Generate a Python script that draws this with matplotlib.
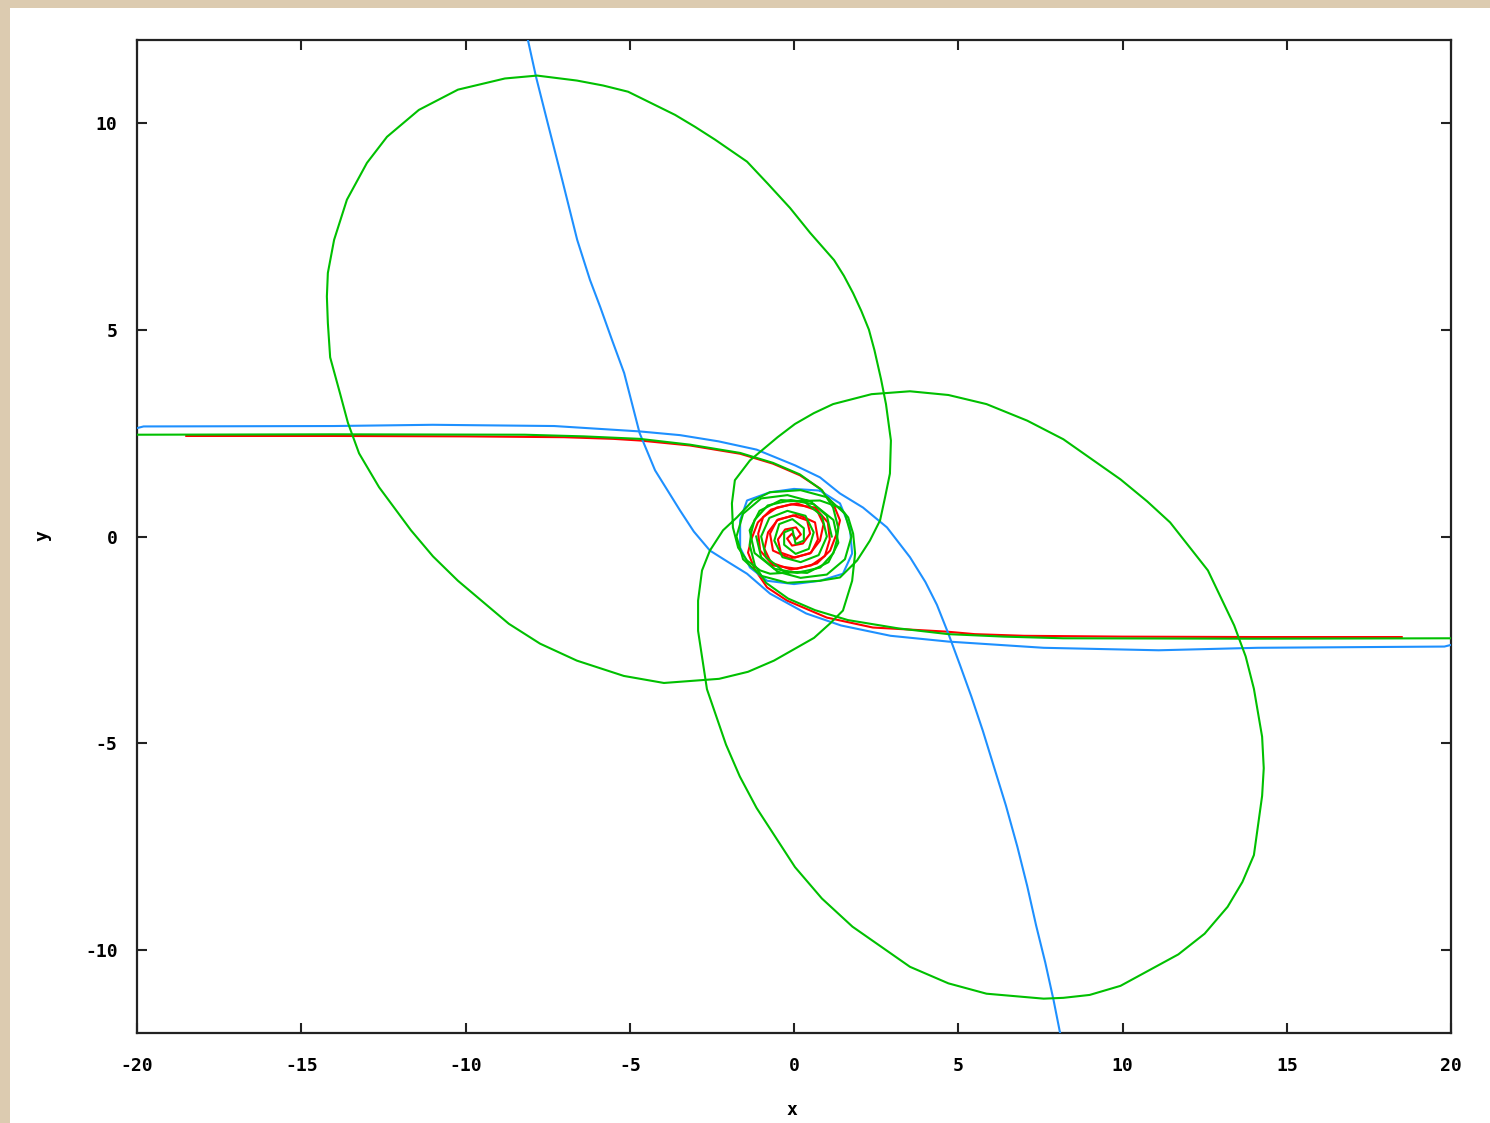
import matplotlib

matplotlib.use("Agg")
import matplotlib.pyplot as plt
import matplotlib.patches as mpatches

# ---- data (x, y pairs per trajectory piece) ----

# red: accurate solution, two arms spiralling into the origin
red_a_x = [-18.5, -14, -10, -7, -5.5, -4.69, -3.17, -1.64, -0.64, 0.18, 0.79, 1.19, 1.4, 1.3, 1.1, 0.7,
           0.09, -0.64, -1.03, -1.09, -0.94, -0.52, 0.09, 0.7, 0.9, 0.79, 0.49, -0.12, -0.64, -0.73,
           -0.52, -0.03, 0.4, 0.49, 0.27, -0.06, -0.21, -0.06, 0.0]
red_a_y = [2.43, 2.43, 2.42, 2.40, 2.36, 2.32, 2.2, 2.0, 1.76, 1.48, 1.16, 0.8, 0.39, 0.07, -0.34, -0.65,
           -0.78, -0.7, -0.34, 0.07, 0.47, 0.7, 0.8, 0.63, 0.3, -0.1, -0.41, -0.53, -0.34, 0.07,
           0.39, 0.51, 0.39, 0.07, -0.17, -0.22, -0.05, 0.07, 0.0]
red_b_x = [18.5, 14, 10, 7, 5.5, 4.66, 2.4, 1.0, -0.21, -0.82, -1.19, -1.4, -1.3, -1.1, -0.7, -0.09,
           0.64, 1.03, 1.09, 0.94, 0.52, -0.09, -0.7, -0.9, -0.79, -0.49, 0.12, 0.64, 0.73, 0.52,
           0.03, -0.4, -0.49, -0.27, 0.06, 0.21, 0.06, 0.0]
red_b_y = [-2.43, -2.43, -2.42, -2.40, -2.36, -2.3, -2.2, -1.96, -1.55, -1.23, -0.8, -0.39, -0.07, 0.34,
           0.65, 0.78, 0.7, 0.34, -0.07, -0.47, -0.7, -0.8, -0.63, -0.3, 0.1, 0.41, 0.53, 0.34, -0.07,
           -0.39, -0.51, -0.39, -0.07, 0.17, 0.22, 0.05, -0.07, 0.0]

# green: arms
green_a_x = [-20, -14, -8.2, -6.4, -4.7, -3.17, -1.64, -0.64, 0.18, 0.85, 1.19, 1.35, 1.3, 1.2, 0.8, 0.1,
             -0.6, -1.2, -1.35, -1.05, -0.4, 0.3, 0.85, 1.0, 0.75, 0.2, -0.35, -0.6, -0.45, -0.05, 0.3,
             0.3, 0.05, 0.0]
green_a_y = [2.46, 2.47, 2.46, 2.42, 2.36, 2.22, 2.02, 1.78, 1.5, 1.12, 0.7, 0.2, -0.1, -0.4, -0.75,
             -0.88, -0.78, -0.4, 0.15, 0.62, 0.88, 0.85, 0.5, 0.0, -0.45, -0.62, -0.5, -0.1, 0.3, 0.42,
             0.2, -0.1, -0.18, 0.0]
green_b_x = [20, 14, 8.2, 6.4, 4.7, 3.17, 1.64, 0.64, -0.18, -0.85, -1.19, -1.35, -1.3, -1.2, -0.8, -0.1,
             0.6, 1.2, 1.35, 1.05, 0.4, -0.3, -0.85, -1.0, -0.75, -0.2, 0.35, 0.6, 0.45, 0.05, -0.3,
             -0.3, -0.05, 0.0]
green_b_y = [-2.46, -2.47, -2.46, -2.42, -2.36, -2.22, -2.02, -1.78, -1.5, -1.12, -0.7, -0.2, 0.1, 0.4,
             0.75, 0.88, 0.78, 0.4, -0.15, -0.62, -0.88, -0.85, -0.5, 0.0, 0.45, 0.62, 0.5, 0.1, -0.3,
             -0.42, -0.2, 0.1, 0.18, 0.0]

# green: big upper-left loop, both ends winding into the centre
green_l_x = [-0.3, 0.79, 1.40, 1.65, 1.80, 1.86, 1.77, 1.49, 1.10, 0.61, -0.61, -1.40, -2.28, -3.96,
             -5.18, -6.61, -7.73, -8.68, -10.23, -10.99, -11.66, -12.63, -13.24, -13.58, -13.82, -14.12,
             -14.19, -14.22, -14.19, -14.0, -13.61, -13.0, -12.39, -11.42, -10.23, -8.80, -7.82, -6.61,
             -5.81, -5.05, -3.62, -3.01, -2.40, -1.43, -0.79, -0.12, 0.49, 1.22, 1.52, 1.80, 2.05, 2.28,
             2.45, 2.65, 2.80, 2.95, 2.92, 2.77, 2.62, 2.31, 1.92, 1.40, 0.79, -0.2, -1.0, -1.55, -1.75,
             -1.55, -1.0, -0.2, 0.5, 1.0, 1.15]
green_l_y = [0.85, 0.87, 0.70, 0.46, 0.07, -0.41, -1.07, -1.79, -2.1, -2.45, -3.0, -3.27, -3.44, -3.54,
             -3.37, -3.0, -2.59, -2.11, -1.07, -0.48, 0.15, 1.19, 2.01, 2.75, 3.46, 4.33, 5.16, 5.8,
             6.37, 7.17, 8.14, 9.03, 9.66, 10.31, 10.80, 11.07, 11.14, 11.02, 10.90, 10.75, 10.19, 9.90,
             9.59, 9.06, 8.52, 7.94, 7.34, 6.68, 6.3, 5.88, 5.45, 5.0, 4.5, 3.8, 3.2, 2.32, 1.52, 0.94,
             0.39, -0.1, -0.58, -0.99, -1.07, -1.12, -0.95, -0.55, 0.0, 0.55, 0.92, 1.0, 0.85, 0.5, 0.0]

# green: big lower-right loop, both ends winding into the centre
green_r_x = [0.3, -0.73, -1.03, -1.43, -1.70, -1.86, -1.89, -1.80, -1.34, -0.5, 0.03, 0.6, 1.19, 2.36,
             3.53, 4.7, 5.86, 7.1, 8.2, 9.94, 10.75, 11.45, 12.6, 13.4, 13.75, 14.0, 14.25, 14.3, 14.25,
             14.0, 13.65, 13.2, 12.5, 11.7, 9.94, 9.0, 8.2, 7.6, 5.86, 4.7, 3.53, 1.78, 0.85, 0.03,
             -1.14, -1.65, -2.07, -2.65, -2.92, -2.92, -2.80, -2.56, -2.16, -1.74, -1.25, -0.73, 0.2,
             1.0, 1.55, 1.75, 1.55, 1.0, 0.2, -0.5, -1.0, -1.15]
green_r_y = [-0.85, -0.9, -0.82, -0.58, -0.27, 0.22, 0.8, 1.36, 1.84, 2.4, 2.72, 2.98, 3.2, 3.44, 3.51,
             3.42, 3.2, 2.8, 2.35, 1.38, 0.85, 0.34, -0.82, -2.15, -2.9, -3.68, -4.84, -5.6, -6.27,
             -7.7, -8.35, -8.95, -9.6, -10.1, -10.86, -11.08, -11.15, -11.17, -11.05, -10.8, -10.4,
             -9.43, -8.75, -7.99, -6.56, -5.8, -5.03, -3.69, -2.28, -1.55, -0.82, -0.34, 0.15, 0.46,
             0.87, 1.07, 1.12, 0.95, 0.55, 0.0, -0.55, -0.92, -1.0, -0.85, -0.5, 0.0]

# blue: loop round the origin
blue_loop_x = [0.79, 1.4, 1.7, 1.77, 1.49, 0.79, 0.0, -0.82, -1.34, -1.64, -1.64, -1.43, -0.73, 0.0, 0.79]
blue_loop_y = [1.11, 0.8, 0.22, -0.41, -0.9, -1.07, -1.15, -1.07, -0.75, -0.27, 0.39, 0.87, 1.07, 1.15,
               1.11]

# blue: shallow arm from the left turning into the steep arm at the bottom
blue_a_x = [-20, -19.8, -14, -11, -7.3, -5.9, -4.7, -3.47, -2.3, -1.14, 0.03, 0.79, 1.4, 2.1, 2.83, 3.53,
            4.0, 4.35, 4.7, 5.05, 5.4, 5.75, 6.1, 6.45, 6.8, 7.1, 7.37, 7.65, 7.9, 8.1]
blue_a_y = [2.62, 2.66, 2.67, 2.7, 2.67, 2.6, 2.54, 2.45, 2.3, 2.1, 1.72, 1.43, 1.04, 0.7, 0.22, -0.5,
            -1.1, -1.65, -2.35, -3.1, -3.87, -4.7, -5.6, -6.5, -7.5, -8.45, -9.4, -10.3, -11.2, -12.0]

# blue: shallow arm from the right turning into the steep arm at the top
blue_b_x = [20, 19.8, 14.1, 11.1, 7.6, 4.7, 2.94, 1.43, 0.37, -0.73, -1.43, -2.0, -2.56, -3.05, -3.47,
            -4.23, -4.7, -5.17, -5.54, -5.9, -6.21, -6.6, -7.05, -7.5, -7.85, -8.1]
blue_b_y = [-2.62, -2.66, -2.69, -2.75, -2.69, -2.54, -2.4, -2.15, -1.86, -1.38, -0.9, -0.62, -0.34, 0.12,
            0.63, 1.6, 2.5, 3.95, 4.75, 5.55, 6.2, 7.17, 8.6, 10.0, 11.1, 12.0]

x_ticks = [-20, -15, -10, -5, 0, 5, 10, 15, 20]
y_ticks = [-10, -5, 0, 5, 10]

RED = "#ff0000"
GREEN = "#00c000"
BLUE = "#1e90ff"

fig = plt.figure(figsize=(14.9, 11.23), dpi=100, facecolor="#dccbb0")
# white card on the textured page
fig.patches.append(mpatches.Rectangle((10 / 1490, 0), 1, 1 - 8 / 1123, transform=fig.transFigure,
                                      facecolor="white", edgecolor="none", zorder=-5))

ax = fig.add_axes([137 / 1490, 90 / 1123, 1314 / 1490, 993 / 1123])
ax.set_facecolor("white")

lw = 1.5
for xs, ys in [(red_a_x, red_a_y), (red_b_x, red_b_y)]:
    ax.plot(xs, ys, color=RED, lw=lw, zorder=2)
for xs, ys in [(blue_loop_x, blue_loop_y), (blue_a_x, blue_a_y), (blue_b_x, blue_b_y)]:
    ax.plot(xs, ys, color=BLUE, lw=lw, zorder=3)
for xs, ys in [(green_a_x, green_a_y), (green_b_x, green_b_y), (green_l_x, green_l_y),
               (green_r_x, green_r_y)]:
    ax.plot(xs, ys, color=GREEN, lw=lw, zorder=4)

ax.set_xlim(-20, 20)
ax.set_ylim(-12, 12)
ax.set_xticks(x_ticks)
ax.set_yticks(y_ticks)

font = dict(family="DejaVu Sans Mono", weight="bold", size=13)
ax.set_xticklabels([str(t) for t in x_ticks], fontdict=font)
ax.set_yticklabels([str(t) for t in y_ticks], fontdict=font)
ax.tick_params(direction="in", length=7, width=1.5, color="#222222", top=True, right=True)
ax.tick_params(axis="x", pad=17)
ax.tick_params(axis="y", pad=14)
for s in ax.spines.values():
    s.set_color("#222222")
    s.set_linewidth(1.6)

fig.text(792 / 1490, 1 - 1110 / 1123, "x", ha="center", va="center", **font)
fig.text(42 / 1490, 1 - 536 / 1123, "y", ha="center", va="center", rotation=90, **font)

plt.savefig("out.png", dpi=100, facecolor=fig.get_facecolor())
plt.close()
